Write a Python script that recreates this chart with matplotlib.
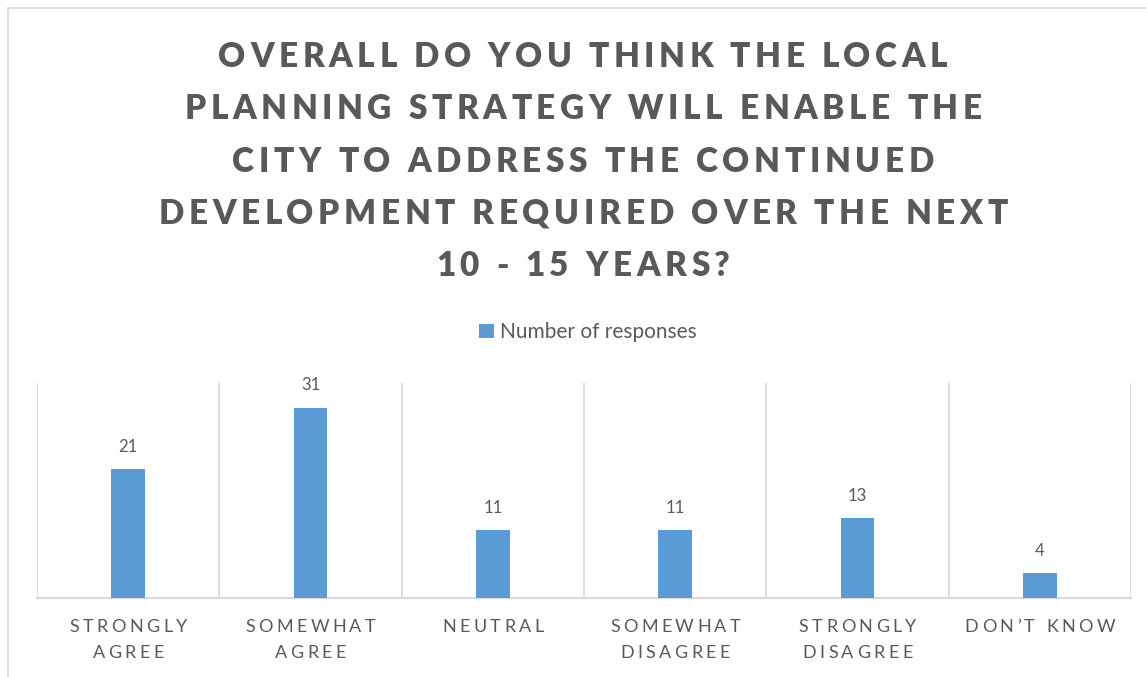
import matplotlib
matplotlib.use("Agg")
import matplotlib.pyplot as plt
from matplotlib.patches import Rectangle
from matplotlib.font_manager import FontProperties, findfont, get_font

categories = ["STRONGLY\nAGREE", "SOMEWHAT\nAGREE", "NEUTRAL",
              "SOMEWHAT\nDISAGREE", "STRONGLY\nDISAGREE", "DON\u2019T KNOW"]
responses = [21, 31, 11, 11, 13, 4]
series_name = "Number of responses"
title_lines = ["OVERALL DO YOU THINK THE LOCAL",
               "PLANNING STRATEGY WILL ENABLE THE",
               "CITY TO ADDRESS THE CONTINUED",
               "DEVELOPMENT REQUIRED OVER THE NEXT",
               "10 - 15 YEARS?"]

W, H, DPI = 1146, 677, 100
GREY = "#595959"
LINE = "#d9d9d9"
BLUE = "#5B9BD5"
FONT = "Lato"


def _spaced_text(fig, cx, y, s, size, spacing, weight="normal"):
    """Centered text at pixel (cx, y from top) with extra letter spacing in px."""
    fp = FontProperties(family=FONT, weight=weight, size=size)
    font = get_font(findfont(fp))
    font.set_size(size, DPI)
    adv = [font.load_char(ord(c)).linearHoriAdvance / 65536 for c in s]
    total = sum(adv) + spacing * (len(s) - 1)
    x = cx - total / 2
    for c, a in zip(s, adv):
        if c != " ":
            fig.text(x / W, 1 - y / H, c, fontproperties=fp, color=GREY,
                     ha="left", va="baseline")
        x += a + spacing


fig = plt.figure(figsize=(W / DPI, H / DPI), dpi=DPI)
ax = fig.add_axes([37 / W, 79 / H, 1094 / W, 215 / H])

n = len(categories)
xs = [i + 0.5 for i in range(n)]
bars = ax.bar(xs, responses, width=0.186, color=BLUE, label=series_name, zorder=3)
ax.set_xlim(0, n)
ax.set_ylim(0, 35)
for i in range(n + 1):
    ax.axvline(i, color=LINE, lw=1.3, zorder=1)
for s in ["top", "right", "left"]:
    ax.spines[s].set_visible(False)
ax.spines["bottom"].set_color(LINE)
ax.spines["bottom"].set_linewidth(1.5)
ax.set_xticks([])
ax.set_yticks([])

for x, v in zip(xs, responses):
    ax.annotate(str(v), (x, v), xytext=(0, 12.5), textcoords="offset points",
                ha="center", va="baseline", fontsize=12, family=FONT, color=GREY)

# chart border (right and bottom edges fall outside the image)
fig.add_artist(Rectangle((8 / W, -0.1), 1.2, 1.1 - 8 / H, transform=fig.transFigure,
                         fill=False, ec=LINE, lw=1.3))

# title
for k, line in enumerate(title_lines):
    _spaced_text(fig, 583, 67 + 52.3 * k, line, 24, 4.6, weight="heavy")

# category labels
for x, lab in zip(xs, categories):
    cx = ax.transData.transform((x, 0))[0]
    for k, part in enumerate(lab.split("\n")):
        _spaced_text(fig, cx, 632 + 26 * k, part, 13, 3.4)

fig.legend(handles=[bars], labels=[series_name], loc="center",
           bbox_to_anchor=(588 / W, 1 - 332 / H), frameon=False,
           prop=FontProperties(family=FONT, size=15), labelcolor=GREY,
           handlelength=0.68, handleheight=0.68, handletextpad=0.3)

fig.savefig("out.png", dpi=DPI)
